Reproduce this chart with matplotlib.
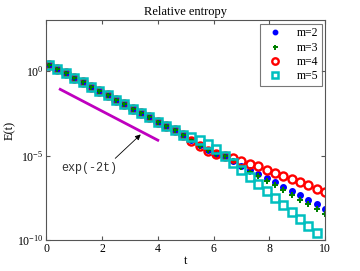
import numpy as np
import matplotlib
matplotlib.use("Agg")
import matplotlib.pyplot as plt

plt.rcParams['font.family'] = ['Liberation Serif', 'DejaVu Serif']
plt.rcParams['mathtext.fontset'] = 'stix'

# time samples (t = 0.1, 0.4, ..., 10.0)
t = np.round(np.arange(0.1, 10.01, 0.3), 1)

# log10 of E(t)
common = [0.374, 0.098, -0.138, -0.413, -0.669, -0.925, -1.181, -1.437, -1.693,
          -1.969, -2.224, -2.480, -2.736, -2.992, -3.248, -3.504, -3.760]
log_m2 = common + [-4.075, -4.390, -4.665, -4.882, -5.020, -5.315, -5.610, -5.866,
                   -6.122, -6.358, -6.594, -6.850, -7.106, -7.362, -7.638, -7.894, -8.150]
log_m3 = common + [-4.075, -4.409, -4.685, -4.902, -5.020, -5.354, -5.669, -6.004,
                   -6.240, -6.496, -6.752, -7.047, -7.343, -7.638, -7.894, -8.189, -8.465]
log_m4 = common + [-4.114, -4.429, -4.705, -4.882, -5.039, -5.177, -5.335, -5.492,
                   -5.650, -5.846, -6.024, -6.201, -6.378, -6.594, -6.772, -6.969, -7.146]
log_m5 = common + [-3.898, -4.094, -4.331, -4.606, -5.000, -5.433, -5.846, -6.260,
                   -6.673, -7.106, -7.520, -7.933, -8.346, -8.760, -9.193, -9.606]

# reference slope exp(-2t)
ref_t = [0.5, 4.0]
ref_log = [-1.083, -4.094]

fig = plt.figure(figsize=(3.6, 2.71), dpi=100)
ax = fig.add_axes([0.1286, 0.1144, 0.7744, 0.8106])

ax.semilogy(ref_t, 10.0 ** np.array(ref_log), color=(0.75, 0, 0.75), lw=2)
ax.semilogy(t, 10.0 ** np.array(log_m2), 'o', color='b', ms=4, mec='b', label='m=2')
ax.semilogy(t, 10.0 ** np.array(log_m3), 'P', color=(0, 0.5, 0), ms=4.5, mew=0, label='m=3')
ax.semilogy(t, 10.0 ** np.array(log_m4), 'o', mfc='none', mec='r', ms=5.8, mew=1.7, label='m=4')
ax.semilogy(t[:len(log_m5)], 10.0 ** np.array(log_m5), 's', mfc='none',
            mec=(0, 0.75, 0.75), ms=5.3, mew=1.8, label='m=5')

ax.annotate('', xy=(3.46, 10 ** -3.64), xytext=(2.4, 10 ** -5.28),
            arrowprops=dict(arrowstyle='-|>', color='k', lw=0.6, mutation_scale=8))
ax.text(0.52, 10 ** -5.73, 'exp(-2t)', family='Liberation Mono', fontsize=8.5,
        va='center', ha='left', color='#333333')

ax.set_xlim(0, 10)
ax.set_ylim(1e-10, 1e3)
ax.set_xticks([0, 2, 4, 6, 8, 10])
ax.set_yticks([1e-10, 1e-5, 1e0])
ax.minorticks_off()
ax.tick_params(direction='in', length=3, top=True, right=True, labelsize=8.5,
               color='#555555', pad=2)
for s in ax.spines.values():
    s.set_color('#555555')
    s.set_linewidth(0.8)

ax.set_title('Relative entropy', fontsize=9, pad=4)
ax.set_xlabel('t', fontsize=9, labelpad=0)
ax.set_ylabel('E(t)', fontsize=9, labelpad=1)

leg = ax.legend(loc='upper right', fontsize=8.5, frameon=True, fancybox=False,
                edgecolor='#555555', borderaxespad=0.3, handletextpad=0.8,
                labelspacing=0.2, borderpad=0.3, markerscale=0.8, markerfirst=True)
leg.get_frame().set_linewidth(0.8)

fig.savefig('out.png', dpi=100)
